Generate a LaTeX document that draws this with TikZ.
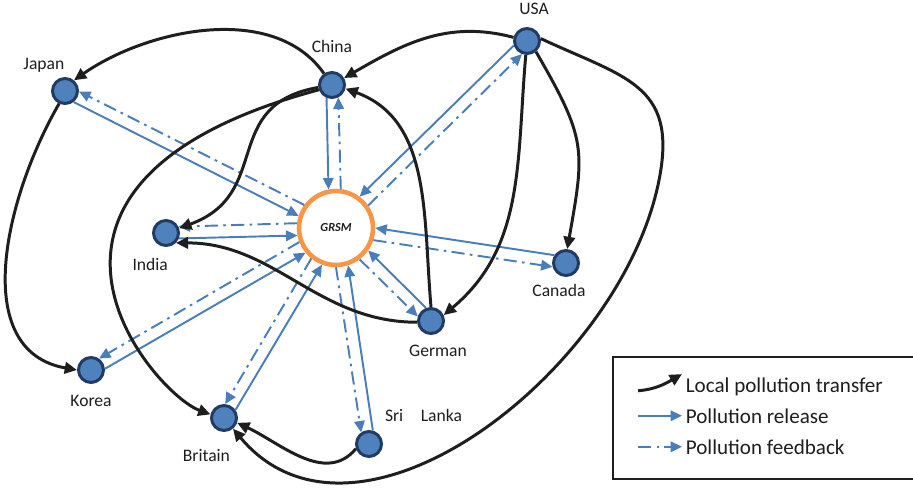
\documentclass[tikz,border=0pt]{standalone}
\usepackage{fontspec}
\setmainfont{Carlito}
\usetikzlibrary{arrows.meta}
\definecolor{nodefill}{RGB}{79,129,189}
\definecolor{nodeline}{RGB}{33,59,99}
\definecolor{relblue}{RGB}{74,126,187}
\definecolor{hubring}{RGB}{247,150,70}
\definecolor{inkblack}{RGB}{30,30,30}
\tikzset{
  country/.style={circle, draw=nodeline, fill=nodefill, line width=1.7pt, minimum size=0.5cm, inner sep=0pt},
  hub/.style={circle, draw=hubring, line width=2.6pt, minimum size=1.48cm, inner sep=0pt, text=inkblack, font=\fontsize{7}{8}\selectfont\bfseries\itshape},
  every label/.style={font=\fontsize{10}{12}\selectfont, text=inkblack},
  transfer/.style={-{Triangle[length=7pt,width=6.5pt]}, line width=1.7pt, color=inkblack},
  release/.style={-{Triangle[length=6.5pt,width=6pt]}, line width=1.1pt, color=relblue},
  feedback/.style={release, dash pattern=on 7.5pt off 3pt on 1.5pt off 3pt},
  legendtext/.style={font=\fontsize{12}{14}\selectfont, text=inkblack, inner sep=2pt, anchor=base west}
}
\begin{document}
\begin{tikzpicture}[x=0.02cm, y=0.02cm]
		\useasboundingbox (0,0) rectangle (913,495);
		\node[country, label={[xshift=-12pt, label distance=-1pt]above:Japan}] (JP) at (65,404) {};
		\node[country, label={[label distance=7pt]above:China}] (CN) at (332,410) {};
		\node[country, label={[xshift=4pt, label distance=3.5pt]above:USA}] (US) at (527,454) {};
		\node[country, label={[xshift=-9pt, label distance=3pt]below:India}] (IN) at (166,262) {};
		\node[country, label={[xshift=-4pt, label distance=0.5pt]below:Canada}] (CA) at (566,232) {};
		\node[country, label={[xshift=4pt, label distance=2.3pt]below:German}] (DE) at (431,174) {};
		\node[country, label={[label distance=3pt]below:Korea}] (KR) at (91,125) {};
		\node[country, label={[xshift=-10pt, label distance=6.3pt]below:Britain}] (GB) at (224,77) {};
		\node[country, label={[xshift=31pt, label distance=1pt]above:Sri\hspace{10pt}Lanka}] (LK) at (369,51) {};
		\node[hub] (R) at (336,267) {GRSM};
		\coordinate (bend) at (660,320);
		% release and feedback
		\path [release] (JP.-52) edge (R.162);
		\path [feedback] (R.144) edge (JP.-2);
		\path [release] (CN.-113) edge (R.101);
		\path [feedback] (R.83) edge (CN.-63);
		\path [release] (US.-161) edge (R.53);
		\path [feedback] (R.35) edge (US.-111);
		\path [release] (IN.-23) edge (R.191);
		\path [feedback] (R.173) edge (IN.27);
		\path [release] (CA.146) edge (R.0);
		\path [feedback] (R.-18) edge (CA.196);
		\path [release] (DE.111) edge (R.-35);
		\path [feedback] (R.-53) edge (DE.161);
		\path [release] (KR.5) edge (R.219);
		\path [feedback] (R.201) edge (KR.55);
		\path [release] (GB.35) edge (R.249);
		\path [feedback] (R.231) edge (GB.85);
		\path [release] (LK.74) edge (R.288);
		\path [feedback] (R.270) edge (LK.124);
		% local transfer
		\path [transfer] (CN.125) edge[out=125, in=35, looseness=0.9] (JP.50);
		\path [transfer] (US.165) edge[out=165, in=30] (CN.30);
		\path [transfer] (CN.190) edge[out=190, in=20, looseness=1.3] (IN.20);
		\path [transfer] (CN.200) edge[out=195, in=160, out looseness=2.7, in looseness=0.45] (GB.165);
		\path [transfer] (DE.90) edge[out=95, in=-20] (CN.-15);
		\path [transfer] (US.-95) edge[out=-95, in=40] (DE.25);
		\path [transfer] (US.-50) edge[out=-60, in=80, looseness=1.3] (CA.85);
		\draw [transfer] (US.10) to[out=-25, in=80, looseness=1.3] (bend) to[out=-100, in=-50] (GB.-50);
		\path [transfer] (LK.200) edge[out=230, in=-25] (GB.-20);
		\path [transfer] (DE.185) edge[out=180, in=0] (IN.-45);
		\path [transfer] (JP.-115) edge[out=240, in=170, looseness=1.05] (KR.180);
		% legend
		\draw[line width=1.5pt, draw=inkblack] (613,138) rectangle (916,16);
		\node[legendtext] (ltr) at (682,103) {Local pollution transfer};
		\node[legendtext] (lrel) at (682,72) {Pollution release};
		\node[legendtext] (lfb) at (682,41) {Pollution feedback};
		\draw [transfer] ([xshift=-25pt, yshift=-2.5pt]ltr.west) to[out=5, in=210] ([yshift=7pt]ltr.west);
		\draw [release] ([xshift=-25pt]lrel.west) -- (lrel.west);
		\draw [feedback] ([xshift=-25pt]lfb.west) -- (lfb.west);
	\end{tikzpicture}
\end{document}
